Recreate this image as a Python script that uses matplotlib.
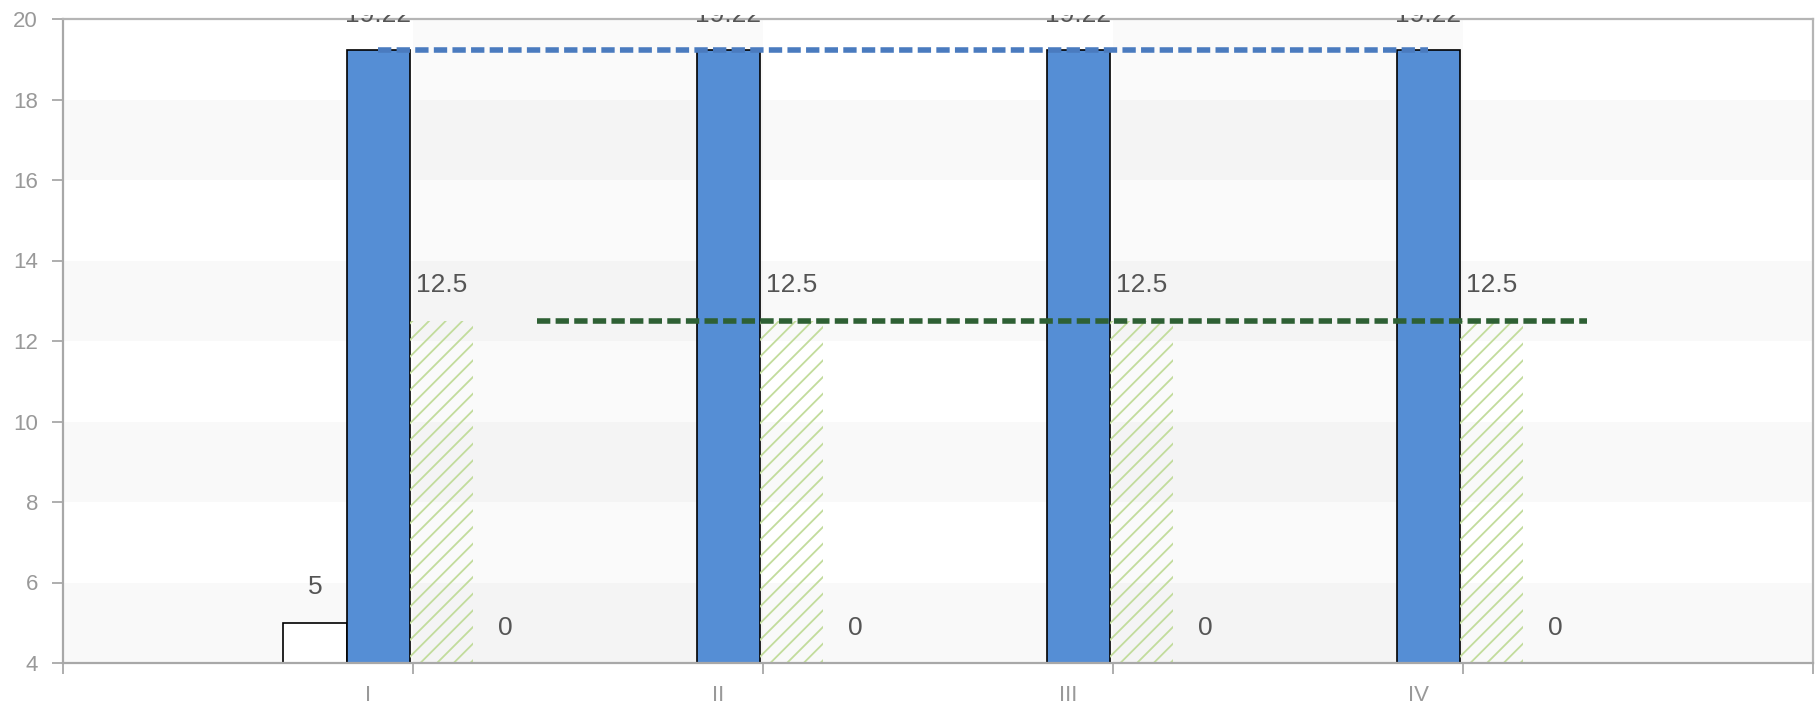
import numpy as np
import matplotlib
matplotlib.use("Agg")
import matplotlib.pyplot as plt
from matplotlib.transforms import Bbox, TransformedBbox

# data
categories = ["I", "II", "III", "IV"]
white_vals = [5, np.nan, np.nan, np.nan]
blue_vals = [19.22, 19.22, 19.22, 19.22]
hatch_vals = [12.5, 12.5, 12.5, 12.5]
zero_vals = [0, 0, 0, 0]
blue_line = 19.22
green_line = 12.5
y_ticks = [4, 6, 8, 10, 12, 14, 16, 18, 20]

plt.rcParams["font.family"] = ["Liberation Sans", "DejaVu Sans"]
plt.rcParams["hatch.linewidth"] = 1.3

fig = plt.figure(figsize=(18.2, 7.08), dpi=100)
ax = fig.add_axes([63 / 1820, 1 - 663 / 708, 1750 / 1820, 644 / 708])
ymin, ymax = 4, 20
ax.set_xlim(0, 5)
ax.set_ylim(ymin, ymax)

# split areas (rows and columns)
for i, y0 in enumerate(range(ymin, ymax, 2)):
    if i % 2 == 0:
        ax.axhspan(y0, y0 + 2, color="black", alpha=0.025, lw=0, zorder=0)
for x0 in [1, 3]:
    ax.axvspan(x0, x0 + 1, color="black", alpha=0.02, lw=0, zorder=0)

w = 0.181
x = np.arange(1, len(categories) + 1) - 0.009
lefts = [x - 2 * w + i * w for i in range(4)]
centers = [l + w / 2 for l in lefts]

ax.bar(centers[0], np.array(white_vals) - ymin, w, bottom=ymin, color="white",
       edgecolor="black", linewidth=1.2, zorder=2)
ax.bar(centers[1], np.array(blue_vals) - ymin, w, bottom=ymin, color="#558ed5",
       edgecolor="black", linewidth=1.2, zorder=2)
ax.bar(centers[2], np.array(hatch_vals) - ymin, w, bottom=ymin, color="none",
       edgecolor="#c2dc9c", linewidth=0, hatch="//", zorder=2)

# dashed reference lines
ax.plot([centers[1][0], centers[1][-1]], [blue_line, blue_line], color="#4a7bbf",
        lw=4.0, dashes=(2.4, 0.95), zorder=4)
ax.plot([lefts[3][0] + w, lefts[3][-1] + w], [green_line, green_line], color="#2e6034",
        lw=4.0, dashes=(2.4, 0.95), zorder=4)

# value labels
clip = TransformedBbox(Bbox([[0, 0], [1, 1 - 15 / 708]]), fig.transFigure)
for series, cx in [(white_vals, centers[0]), (blue_vals, centers[1]),
                   (hatch_vals, centers[2]), (zero_vals, centers[3])]:
    for v, xc in zip(series, cx):
        if np.isnan(v):
            continue
        t = ax.annotate(f"{v:g}", (xc, max(v, ymin)), xytext=(0, 25.5),
                        textcoords="offset points", ha="center", va="center",
                        fontsize=19, color="#555555", annotation_clip=False, zorder=5)
        t.set_clip_box(clip)
        t.set_clip_on(True)

# axes styling
for s in ax.spines.values():
    s.set_color("#b5b5b5")
    s.set_linewidth(1.6)
ax.spines["left"].set_color("#a8a8a8")
ax.spines["bottom"].set_color("#a8a8a8")
ax.set_yticks(y_ticks)
ax.tick_params(axis="y", length=8, width=1.3, color="#a8a8a8", labelcolor="#999999",
               labelsize=16, pad=10)
ax.set_xticks(range(0, 6))
ax.set_xticklabels([])
ax.tick_params(axis="x", which="major", length=8, width=1.3, color="#a8a8a8")
ax.set_xticks(np.arange(len(categories)) + 0.872, minor=True)
ax.set_xticklabels(categories, minor=True)
ax.tick_params(axis="x", which="minor", length=0, labelcolor="#999999", labelsize=16, pad=16)

fig.savefig("out.png", dpi=100)
